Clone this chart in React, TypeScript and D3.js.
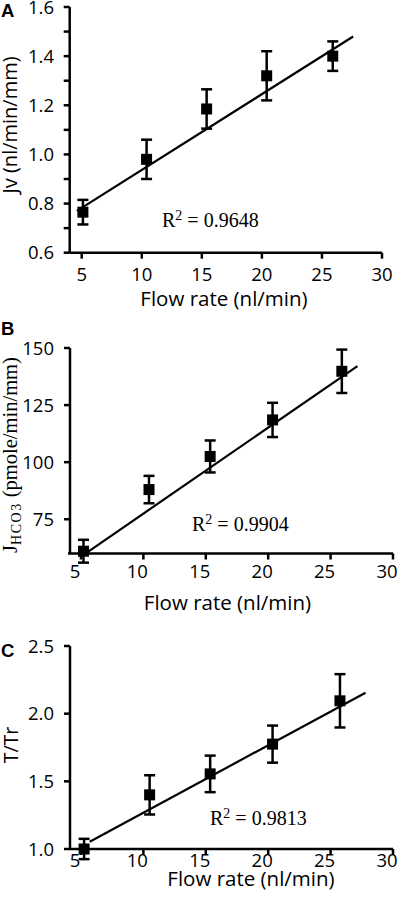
import React from "react";
import * as d3 from "d3";

// ---------- data ----------
const xTickValues = [5, 10, 15, 20, 25, 30];

// Panel A: Jv
const flowA = [5.1, 10.4, 15.4, 20.4, 25.9];
const jvMean = [0.765, 0.98, 1.185, 1.32, 1.4];
const jvErr = [0.05, 0.08, 0.08, 0.1, 0.06];
const jvFitX = [4.6, 27.6];
const jvFitY = [0.77, 1.48];
const jvTicks = [0.6, 0.8, 1.0, 1.2, 1.4, 1.6];
const jvMinorTicks = [0.7, 0.9, 1.1, 1.3, 1.5];

// Panel B: JHCO3
const flowB = [5.2, 10.45, 15.35, 20.35, 25.9];
const jhco3Mean = [61, 88, 102.5, 118.5, 139.8];
const jhco3Err = [5, 6, 7, 7.5, 9.5];
const jhco3FitX = [5.5, 27.15];
const jhco3FitY = [60.5, 142.1];
const jhco3Ticks = [75, 100, 125, 150];

// Panel C: T/Tr
const flowC = [5.25, 10.5, 15.35, 20.35, 25.75];
const ttrMean = [1.0, 1.4, 1.555, 1.775, 2.095];
const ttrErr = [0.075, 0.145, 0.135, 0.137, 0.197];
const ttrFitX = [5.7, 27.8];
const ttrFitY = [1.054, 2.155];
const ttrTicks = [1.0, 1.5, 2.0, 2.5];

const SANS = "'Open Sans', 'Noto Sans', sans-serif";
const SERIF = "'Liberation Serif', 'Times New Roman', serif";

type PanelProps = {
  letter: string;
  letterY: number;
  xs: number[];
  ys: number[];
  errs: number[];
  fitX: number[];
  fitY: number[];
  xScale: d3.ScaleLinear<number, number>;
  yScale: d3.ScaleLinear<number, number>;
  yTicks: number[];
  yMinor: number[];
  yFmt: (v: number) => string;
  xLabelBaseline: number;
  xLabelDx: number;
  titleX: number;
  titleY: number;
  yTitle: React.ReactNode;
  yTitleX: number;
  yTitleY: number;
  r2: string;
  r2X: number;
  r2Y: number;
  axisLeftExt: number;
};

function Panel(p: PanelProps) {
  const [x0, x1] = p.xScale.range();
  const [yb, yt] = p.yScale.range();
  const axisW = 2.5;
  const tickLen = 6;
  const sq = 11;
  const cap = 11;
  const line = d3
    .line<number>()
    .x((_, i) => p.xScale(p.fitX[i]))
    .y((_, i) => p.yScale(p.fitY[i]));
  return (
    <g>
      <text x={1} y={p.letterY} fontFamily="'Liberation Sans', Arial, sans-serif" fontWeight="bold" fontSize={18.5}>
        {p.letter}
      </text>
      {/* regression line */}
      <path d={line(p.fitX) || ""} stroke="#000" strokeWidth={2.2} fill="none" />
      {/* error bars and markers */}
      {p.xs.map((xv, i) => {
        const cx = p.xScale(xv);
        const cy = p.yScale(p.ys[i]);
        const top = p.yScale(p.ys[i] + p.errs[i]);
        const bot = p.yScale(p.ys[i] - p.errs[i]);
        return (
          <g key={i}>
            <line x1={cx} x2={cx} y1={top} y2={bot} stroke="#000" strokeWidth={2.5} />
            <line x1={cx - cap / 2} x2={cx + cap / 2} y1={top} y2={top} stroke="#000" strokeWidth={2.5} />
            <line x1={cx - cap / 2} x2={cx + cap / 2} y1={bot} y2={bot} stroke="#000" strokeWidth={2.5} />
            <rect x={cx - sq / 2} y={cy - sq / 2} width={sq} height={sq} fill="#000" />
          </g>
        );
      })}
      {/* axes */}
      <line x1={x0} x2={x0} y1={yt} y2={yb} stroke="#000" strokeWidth={axisW} />
      <line x1={x0 - p.axisLeftExt} x2={x1} y1={yb} y2={yb} stroke="#000" strokeWidth={axisW} />
      {p.yTicks.map((t) => (
        <g key={"yt" + t}>
          <line x1={x0 - tickLen} x2={x0} y1={p.yScale(t)} y2={p.yScale(t)} stroke="#000" strokeWidth={axisW} />
          <text x={54} y={p.yScale(t)} dy="0.36em" textAnchor="end" fontFamily={SANS} fontSize={18.5}>
            {p.yFmt(t)}
          </text>
        </g>
      ))}
      {p.yMinor.map((t) => (
        <line key={"ym" + t} x1={x0 - tickLen} x2={x0} y1={p.yScale(t)} y2={p.yScale(t)} stroke="#000" strokeWidth={axisW} />
      ))}
      {xTickValues.map((t) => (
        <g key={"xt" + t}>
          <line x1={p.xScale(t)} x2={p.xScale(t)} y1={yb} y2={yb + tickLen} stroke="#000" strokeWidth={axisW} />
          <text x={p.xScale(t) + p.xLabelDx} y={p.xLabelBaseline} textAnchor="middle" fontFamily={SANS} fontSize={18.5}>
            {t}
          </text>
        </g>
      ))}
      <text x={p.titleX} y={p.titleY} textAnchor="middle" fontFamily={SANS} fontSize={20.5}>
        Flow rate (nl/min)
      </text>
      <g transform={`translate(${p.yTitleX},${p.yTitleY}) rotate(-90)`}>{p.yTitle}</g>
      <text x={p.r2X} y={p.r2Y} fontFamily={SERIF} fontSize={20}>
        R
        <tspan fontSize={14} dy={-7}>2</tspan>
        <tspan dy={7}> = {p.r2}</tspan>
      </text>
    </g>
  );
}

export default function App() {
  const xA = d3.scaleLinear().domain([4, 30]).range([69.7, 382]);
  const yA = d3.scaleLinear().domain([0.6, 1.6]).range([252.7, 7]);
  const xB = d3.scaleLinear().domain([4.12, 30]).range([70, 393]);
  const yB = d3.scaleLinear().domain([60, 150]).range([553.5, 348]);
  const xC = d3.scaleLinear().domain([4.12, 30]).range([70, 393]);
  const yC = d3.scaleLinear().domain([1.0, 2.5]).range([849, 646]);

  return (
    <svg
      width={400}
      height={897}
      viewBox="0 0 400 897"
      style={{ position: "absolute", left: 0, top: 0, background: "#fff" }}
    >
      <rect width={400} height={897} fill="#fff" />
      <Panel
        letter="A"
        letterY={16.5}
        xs={flowA}
        ys={jvMean}
        errs={jvErr}
        fitX={jvFitX}
        fitY={jvFitY}
        xScale={xA}
        yScale={yA}
        yTicks={jvTicks}
        yMinor={jvMinorTicks}
        yFmt={d3.format(".1f")}
        xLabelBaseline={281}
        xLabelDx={0}
        titleX={224}
        titleY={306}
        yTitle={
          <text textAnchor="middle" fontFamily={SANS} fontSize={20}>
            Jv (nl/min/mm)
          </text>
        }
        yTitleX={17}
        yTitleY={125}
        r2="0.9648"
        r2X={162}
        r2Y={227}
        axisLeftExt={0}
      />
      <Panel
        letter="B"
        letterY={335}
        xs={flowB}
        ys={jhco3Mean}
        errs={jhco3Err}
        fitX={jhco3FitX}
        fitY={jhco3FitY}
        xScale={xB}
        yScale={yB}
        yTicks={jhco3Ticks}
        yMinor={[]}
        yFmt={d3.format("d")}
        xLabelBaseline={578}
        xLabelDx={-6}
        titleX={227.5}
        titleY={610}
        yTitle={
          <text textAnchor="middle" fontFamily={SERIF} fontSize={20.5}>
            J
            <tspan fontSize={14} dy={4} letterSpacing={1.5}>HCO3</tspan>
            <tspan dy={-4}> (pmole/min/mm)</tspan>
          </text>
        }
        yTitleX={17}
        yTitleY={455}
        r2="0.9904"
        r2X={192}
        r2Y={531}
        axisLeftExt={2}
      />
      <Panel
        letter="C"
        letterY={657}
        xs={flowC}
        ys={ttrMean}
        errs={ttrErr}
        fitX={ttrFitX}
        fitY={ttrFitY}
        xScale={xC}
        yScale={yC}
        yTicks={ttrTicks}
        yMinor={[]}
        yFmt={d3.format(".1f")}
        xLabelBaseline={867}
        xLabelDx={-6}
        titleX={251}
        titleY={886}
        yTitle={
          <text textAnchor="middle" fontFamily={SANS} fontSize={19.5}>
            T/Tr
          </text>
        }
        yTitleX={18}
        yTitleY={745}
        r2="0.9813"
        r2X={210}
        r2Y={825}
        axisLeftExt={0}
      />
    </svg>
  );
}
